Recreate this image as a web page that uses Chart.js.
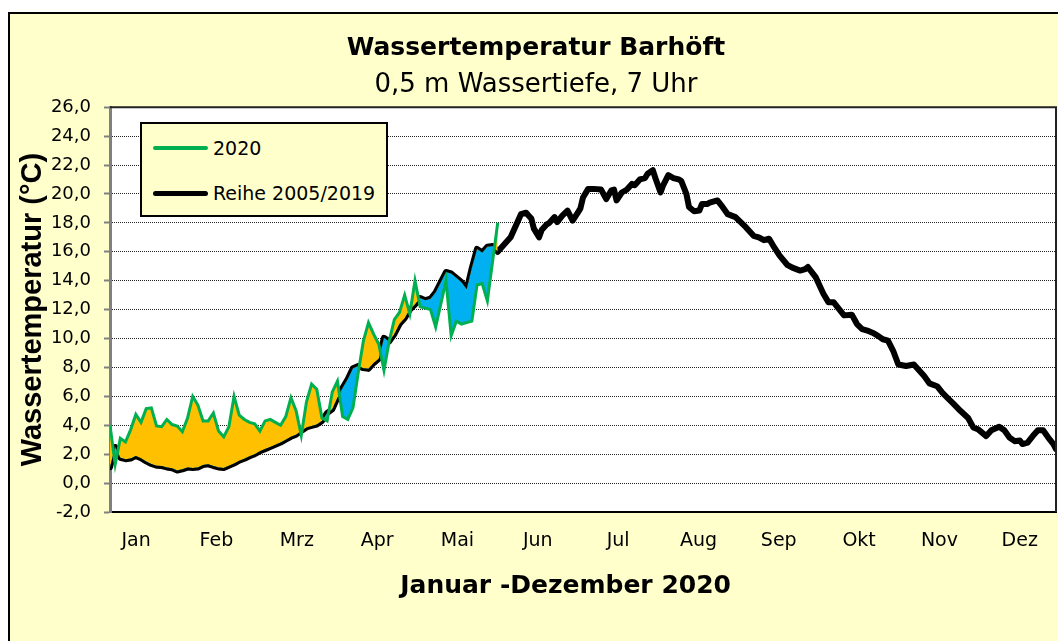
<!DOCTYPE html>
<html>
<head>
<meta charset="utf-8">
<title>Wassertemperatur Barhöft</title>
<script src="https://cdn.jsdelivr.net/npm/chart.js@4.4.0/dist/chart.umd.min.js"></script>
<style>
    html, body { margin: 0; padding: 0; background: #fff; overflow: hidden; }
    #panel { position: absolute; left: 8px; top: 12px; width: 1070px; height: 650px; box-sizing: border-box; background: #FFFFCC; border: 2px solid #000; }
    #wrap { position: absolute; left: 0; top: 0; width: 1058px; height: 641px; }
    #legend { position: absolute; left: 140px; top: 122px; width: 248px; height: 95px; box-sizing: border-box; background: #FFFFCC; border: 2px solid #000; font: 19px "DejaVu Sans", sans-serif; color: #000; }
    #legend .row { position: absolute; left: 11px; height: 24px; display: flex; align-items: center; }
    #legend .swatch { width: 55px; border-radius: 3px; margin-right: 5px; }
</style>
</head>
<body>
<div id="panel"></div>
<div id="wrap"><canvas id="chart" width="1058" height="641"></canvas></div>
<div id="legend">
    <div class="row" style="top:12px"><span class="swatch" style="height:4px;background:#00B050"></span>2020</div>
    <div class="row" style="top:57px"><span class="swatch" style="height:5px;background:#000"></span>Reihe 2005/2019</div>
</div>
<script>
// ---------- Data (day of year 2020, °C) ----------
const monthLabels = ['Jan', 'Feb', 'Mrz', 'Apr', 'Mai', 'Jun', 'Jul', 'Aug', 'Sep', 'Okt', 'Nov', 'Dez'];

const days2020 = [
    0, 2, 4, 6, 8, 10, 12, 14, 16, 18,
    20, 22, 24, 26, 28, 30, 32, 34, 36, 38,
    40, 42, 44, 46, 48, 50, 52, 54, 56, 58,
    60, 62, 64, 66, 68, 70, 72, 74, 76, 78,
    80, 82, 84, 86, 88, 90, 92, 94, 96, 98,
    100, 102, 104, 106, 108, 110, 112, 114, 116, 118,
    120, 122, 124, 126, 128, 130, 132, 134, 136, 138,
    140, 142, 144, 146, 148, 150
];
const temp2020 = [
    4.0, 1.3, 3.1, 2.85, 3.7, 4.75, 4.2, 5.15, 5.2, 3.95,
    3.9, 4.4, 4.05, 3.95, 3.55, 4.5, 6.0, 5.4, 4.3, 4.3,
    4.85, 3.6, 3.2, 3.9, 6.0, 4.7, 4.4, 4.2, 4.1, 3.6,
    4.3, 4.4, 4.2, 4.0, 4.6, 5.9, 5.0, 3.3, 5.6, 6.85,
    6.5, 4.5, 4.3, 6.3, 7.05, 4.6, 4.4, 5.2, 7.6, 9.8,
    11.1, 10.3, 9.6, 7.8, 9.8, 11.3, 11.8, 13.0, 11.7, 14.0,
    12.2, 12.1, 12.0, 10.8, 12.4, 14.0, 10.2, 11.2, 11.0, 11.1,
    11.2, 13.7, 13.8, 12.6, 15.3, 18.0
];

const reiheDays = days2020.concat([
    153, 155, 157, 159, 161, 162, 163, 164, 166, 167, 169, 170, 172, 173, 175, 177, 179,
    181, 182, 183, 185, 187, 190, 192, 194, 195, 196, 198, 200, 202, 203, 205, 207, 208,
    210, 211, 213, 214, 216, 218, 220, 221, 223, 224, 226, 228, 229, 231, 232, 235, 237,
    239, 242, 244, 246, 249, 251, 253, 255, 257, 259, 262, 264, 267, 269, 270, 273, 276,
    278, 280, 282, 284, 287, 289, 291, 293, 295, 297, 299, 301, 303, 305, 308, 311, 313,
    315, 317, 320, 322, 324, 326, 329, 332, 334, 336, 339, 341, 344, 346, 348, 350, 352,
    353, 355, 357, 359, 361, 363, 365, 366
]);
const reiheTemp = [
    1.1, 2.5, 1.75, 1.65, 1.7, 1.88, 1.72, 1.5, 1.32, 1.2,
    1.18, 1.08, 1.02, 0.87, 0.95, 1.07, 1.05, 1.08, 1.25, 1.3,
    1.18, 1.08, 1.04, 1.2, 1.35, 1.55, 1.68, 1.85, 2.0, 2.2,
    2.35, 2.5, 2.65, 2.8, 3.0, 3.2, 3.35, 3.6, 3.85, 3.95,
    4.05, 4.3, 4.85, 5.1, 5.9, 6.6, 7.2, 7.95, 8.1, 7.95,
    7.9, 8.3, 8.6, 10.05, 9.8, 10.3, 11.0, 11.4, 12.0, 12.35,
    12.8, 12.65, 12.75, 13.2, 13.9, 14.6, 14.5, 14.2, 13.9, 13.4,
    14.9, 16.2, 15.95, 16.35, 16.4, 16.0,
    16.6, 17.0, 17.8, 18.6, 18.7, 18.5, 18.3, 17.6, 17.0, 17.5, 17.9, 18.0, 18.4, 18.05, 18.5, 18.85, 18.15,
    18.7, 19.0, 19.75, 20.35, 20.35, 20.3, 19.65, 20.25, 20.3, 19.55, 20.1, 20.3, 20.7, 20.6, 21.0, 21.1, 21.4,
    21.65, 21.1, 20.1, 20.6, 21.3, 21.1, 21.0, 20.9, 20.0, 19.1, 18.8, 18.85, 19.3, 19.3, 19.4, 19.55, 19.1,
    18.6, 18.4, 18.05, 17.7, 17.1, 17.0, 16.8, 16.9, 16.3, 15.75, 15.1, 14.9, 14.7, 14.8, 14.95, 14.25, 13.1,
    12.5, 12.5, 12.05, 11.6, 11.65, 11.0, 10.65, 10.55, 10.4, 10.2, 9.95, 9.85, 9.15, 8.2, 8.1, 8.2, 7.8,
    7.4, 6.9, 6.7, 6.25, 5.9, 5.55, 5.0, 4.5, 3.85, 3.7, 3.25, 3.65, 3.9, 3.65, 3.15, 2.9, 2.95,
    2.7, 2.8, 3.25, 3.65, 3.65, 3.15, 2.7, 2.35
];

const yTicks = { min: -2, max: 26, step: 2 };

// ---------- Helpers ----------
const toPoints = (xs, ys) => xs.map((x, i) => ({ x, y: ys[i] }));
const fmtDe = v => v.toFixed(1).replace('.', ',');

// white plot area + top/right frame
const plotFrame = {
    id: 'plotFrame',
    beforeDraw(chart) {
        const { ctx, chartArea: a } = chart;
        ctx.save();
        ctx.fillStyle = '#fff';
        ctx.fillRect(a.left, a.top, a.right - a.left, a.bottom - a.top);
        ctx.restore();
    },
    afterDraw(chart) {
        const { ctx, chartArea: a } = chart;
        ctx.save();
        ctx.strokeStyle = '#222';
        ctx.lineWidth = 2;
        ctx.beginPath();
        ctx.moveTo(a.left, a.top);
        ctx.lineTo(a.right, a.top);
        ctx.lineTo(a.right, a.bottom);
        ctx.stroke();
        ctx.restore();
    }
};

// ---------- Chart ----------
new Chart(document.getElementById('chart'), {
    type: 'line',
    data: {
        datasets: [
            {
                label: '2020',
                data: toPoints(days2020, temp2020),
                borderColor: '#00B050',
                borderWidth: 3,
                pointRadius: 0,
                tension: 0,
                order: 1,
                fill: { target: 1, above: '#FFC000', below: '#00B0F0' }
            },
            {
                label: 'Reihe 2005/2019',
                data: toPoints(reiheDays, reiheTemp),
                borderColor: '#000',
                borderWidth: 6,
                borderJoinStyle: 'round',
                borderCapStyle: 'round',
                pointRadius: 0,
                tension: 0,
                order: 2,
                fill: false
            }
        ]
    },
    options: {
        responsive: false,
        animation: false,
        layout: { padding: { top: 14, left: 16, right: 2, bottom: 0 } },
        plugins: {
            legend: { display: false },
            tooltip: { enabled: false },
            title: {
                display: true,
                text: 'Wassertemperatur Barhöft',
                color: '#000',
                font: { family: 'DejaVu Sans', size: 25, weight: 'bold' },
                padding: { top: 19, bottom: 0 }
            },
            subtitle: {
                display: true,
                text: '0,5 m Wassertiefe, 7 Uhr',
                color: '#000',
                font: { family: 'DejaVu Sans', size: 26 },
                padding: { top: 7, bottom: 6 }
            }
        },
        scales: {
            x: {
                type: 'linear',
                min: 0,
                max: 366,
                grid: { display: false, drawTicks: false },
                border: { display: true, color: '#000', width: 2 },
                afterBuildTicks: s => { s.ticks = monthLabels.map((m, i) => ({ value: 10.1 + i * 31.08 })); },
                afterFit: s => { s.height = 129; },
                ticks: {
                    autoSkip: false,
                    maxRotation: 0,
                    padding: 18,
                    color: '#000',
                    font: { family: 'DejaVu Sans', size: 19 },
                    callback: (v, i) => monthLabels[i]
                },
                title: {
                    display: true,
                    text: 'Januar -Dezember 2020    ',
                    color: '#000',
                    font: { family: 'DejaVu Sans', size: 25, weight: 'bold' },
                    padding: { top: 0, bottom: 40 }
                }
            },
            y: {
                min: yTicks.min,
                max: yTicks.max,
                afterFit: s => { s.width = 94; },
                ticks: {
                    stepSize: yTicks.step,
                    padding: 13,
                    color: '#000',
                    font: { family: 'DejaVu Sans', size: 18 },
                    callback: v => fmtDe(v)
                },
                grid: { color: '#222', lineWidth: 1, drawTicks: true, tickLength: 6, tickColor: '#808080', tickWidth: 2 },
                border: { display: true, color: '#808080', width: 3, dash: [1, 1] },
                title: {
                    display: true,
                    text: 'Wassertemperatur (°C)',
                    color: '#000',
                    font: { family: 'Liberation Sans', size: 29, weight: 'bold' },
                    padding: { top: 0, bottom: 0 }
                }
            }
        }
    },
    plugins: [plotFrame]
});
</script>
</body>
</html>
